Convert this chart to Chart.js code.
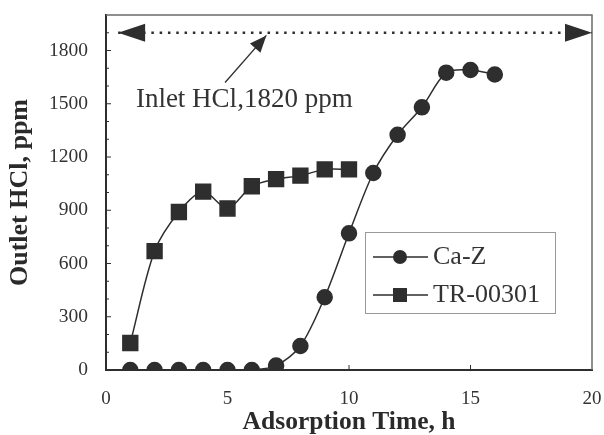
<!DOCTYPE html>
<html lang="en">
<head>
    <meta charset="UTF-8">
    <title>Outlet HCl vs Adsorption Time</title>
    <script src="https://cdn.jsdelivr.net/npm/chart.js"></script>
    <style>
        html, body {
            margin: 0;
            padding: 0;
            background-color: white;
        }
        .chart-box {
            width: 604px;
            height: 435px;
        }
    </style>
</head>
<body>
    <div class="chart-box">
        <canvas id="hclChart" width="604" height="435"></canvas>
    </div>

    <script>
        // Data
        const hours = [1, 2, 3, 4, 5, 6, 7, 8, 9, 10, 11, 12, 13, 14, 15, 16];
        const caZ = [0, 0, 0, 0, 0, 0, 25, 135, 410, 770, 1110, 1325, 1480, 1675, 1690, 1665];
        const trHours = [1, 2, 3, 4, 5, 6, 7, 8, 9, 10];
        const tr00301 = [152, 670, 890, 1005, 910, 1035, 1075, 1095, 1130, 1130];
        const yTicks = [0, 300, 600, 900, 1200, 1500, 1800];
        const xTicks = [0, 5, 10, 15, 20];

        // Inlet level marker and the label pointing to it
        const inletX = [0.5, 20];
        const inletY = [1900, 1900];
        const pointerX = [4.9, 6.6];
        const pointerY = [1620, 1885];
        const inletLabel = 'Inlet HCl,1820 ppm';
        const inletLabelPos = { x: 1.23, y: 1520 };

        const ink = '#2e2e2e';
        const serif = '"Liberation Serif", "Times New Roman", serif';

        const toPoints = (xs, ys) => xs.map((x, i) => ({ x: x, y: ys[i] }));

        function arrowHead(ctx, x0, y0, x1, y1, len, half) {
            const a = Math.atan2(y1 - y0, x1 - x0);
            ctx.save();
            ctx.translate(x1, y1);
            ctx.rotate(a);
            ctx.beginPath();
            ctx.moveTo(0, 0);
            ctx.lineTo(-len, -half);
            ctx.lineTo(-len, half);
            ctx.closePath();
            ctx.fillStyle = ink;
            ctx.fill();
            ctx.restore();
        }

        // frame, inner ticks, arrows, label and legend
        const extras = {
            id: 'extras',
            afterDatasetsDraw(chart) {
                const ctx = chart.ctx;
                const xs = chart.scales.x, ys = chart.scales.y;
                const area = chart.chartArea;

                ctx.save();
                // top and right frame
                ctx.strokeStyle = '#6a6a6a';
                ctx.lineWidth = 1.5;
                ctx.beginPath();
                ctx.moveTo(area.left, area.top);
                ctx.lineTo(area.right, area.top);
                ctx.lineTo(area.right, area.bottom);
                ctx.stroke();

                // inner ticks
                ctx.strokeStyle = ink;
                ctx.lineWidth = 1;
                ctx.beginPath();
                for (let v = 100; v < 2000; v += 100) {
                    const py = ys.getPixelForValue(v);
                    ctx.moveTo(area.left, py);
                    ctx.lineTo(area.left + (v % 300 === 0 ? 5 : 3), py);
                }
                for (let v = 5; v < 20; v += 5) {
                    const px = xs.getPixelForValue(v);
                    ctx.moveTo(px, area.bottom);
                    ctx.lineTo(px, area.bottom - 5);
                }
                ctx.stroke();

                // arrow heads on the inlet line
                const lx = xs.getPixelForValue(inletX[0]), rx = xs.getPixelForValue(inletX[1]);
                const iy = ys.getPixelForValue(inletY[0]);
                arrowHead(ctx, rx, iy, lx, iy, 27, 9);
                arrowHead(ctx, lx, iy, rx, iy, 27, 9);

                // pointer arrow head
                arrowHead(ctx,
                    xs.getPixelForValue(pointerX[0]), ys.getPixelForValue(pointerY[0]),
                    xs.getPixelForValue(pointerX[1]), ys.getPixelForValue(pointerY[1]),
                    17, 7);

                // label
                ctx.fillStyle = '#333';
                ctx.font = '27px ' + serif;
                ctx.textBaseline = 'middle';
                ctx.textAlign = 'left';
                ctx.fillText(inletLabel, xs.getPixelForValue(inletLabelPos.x), ys.getPixelForValue(inletLabelPos.y));

                // legend box inside the plot
                const bx = 365, by = 232, bw = 190, bh = 81;
                ctx.fillStyle = 'white';
                ctx.fillRect(bx, by, bw, bh);
                ctx.strokeStyle = '#999';
                ctx.lineWidth = 1;
                ctx.strokeRect(bx + 0.5, by + 0.5, bw, bh);
                const rows = [by + 25, by + 63];
                chart.data.datasets.filter(d => d.inLegend).forEach((d, i) => {
                    const ry = rows[i];
                    ctx.strokeStyle = ink;
                    ctx.lineWidth = 1.5;
                    ctx.beginPath();
                    ctx.moveTo(bx + 8, ry);
                    ctx.lineTo(bx + 63, ry);
                    ctx.stroke();
                    ctx.fillStyle = ink;
                    if (d.pointStyle === 'rect') {
                        ctx.fillRect(bx + 28, ry - 7, 14, 14);
                    } else {
                        ctx.beginPath();
                        ctx.arc(bx + 35, ry, 7, 0, Math.PI * 2);
                        ctx.fill();
                    }
                    ctx.fillStyle = '#333';
                    ctx.font = '26px ' + serif;
                    ctx.fillText(d.label, bx + 68, ry);
                });
                ctx.restore();
            }
        };

        new Chart(document.getElementById('hclChart'), {
            type: 'line',
            data: {
                datasets: [
                    {
                        label: 'Ca-Z',
                        inLegend: true,
                        data: toPoints(hours, caZ),
                        borderColor: ink,
                        backgroundColor: ink,
                        borderWidth: 1.5,
                        pointStyle: 'circle',
                        pointRadius: 7.5,
                        tension: 0.3
                    },
                    {
                        label: 'TR-00301',
                        inLegend: true,
                        data: toPoints(trHours, tr00301),
                        borderColor: ink,
                        backgroundColor: ink,
                        borderWidth: 1.5,
                        pointStyle: 'rect',
                        pointRadius: 10.5,
                        tension: 0.3
                    },
                    {
                        label: 'inlet',
                        data: toPoints(inletX, inletY),
                        borderColor: ink,
                        borderWidth: 2.5,
                        borderDash: [2.5, 5.8],
                        pointRadius: 0
                    },
                    {
                        label: 'pointer',
                        data: toPoints(pointerX, pointerY),
                        borderColor: ink,
                        borderWidth: 1.3,
                        pointRadius: 0
                    }
                ]
            },
            options: {
                responsive: false,
                animation: false,
                layout: { padding: { top: 15, right: 11, left: 0, bottom: 0 } },
                plugins: {
                    legend: { display: false },
                    tooltip: { enabled: false }
                },
                scales: {
                    x: {
                        type: 'linear',
                        min: 0,
                        max: 20,
                        afterBuildTicks: s => { s.ticks = xTicks.map(v => ({ value: v })); },
                        afterFit: s => { s.height = 65; s.paddingLeft = 0; s.paddingRight = 0; },
                        grid: { display: false, drawTicks: false },
                        border: { display: true, color: ink, width: 2 },
                        ticks: { padding: 18, color: '#333', font: { family: serif, size: 19 }, callback: v => String(v) },
                        title: {
                            display: true,
                            text: 'Adsorption Time, h',
                            color: '#2a2a2a',
                            font: { family: serif, size: 25.5, weight: 'bold', lineHeight: 1 },
                            padding: { top: 0, bottom: 0 }
                        }
                    },
                    y: {
                        min: 0,
                        max: 2000,
                        afterBuildTicks: s => { s.ticks = yTicks.map(v => ({ value: v })); },
                        afterFit: s => { s.width = 106; s.paddingTop = 0; s.paddingBottom = 0; },
                        grid: { display: false, drawTicks: false },
                        border: { display: true, color: ink, width: 2 },
                        ticks: { padding: 18, color: '#333', font: { family: serif, size: 19.5 }, callback: v => String(v) },
                        title: {
                            display: true,
                            text: 'Outlet HCl, ppm',
                            color: '#2a2a2a',
                            font: { family: serif, size: 26, weight: 'bold', lineHeight: 1 },
                            padding: { top: 7, bottom: 0 }
                        }
                    }
                }
            },
            plugins: [extras]
        });
    </script>
</body>
</html>
